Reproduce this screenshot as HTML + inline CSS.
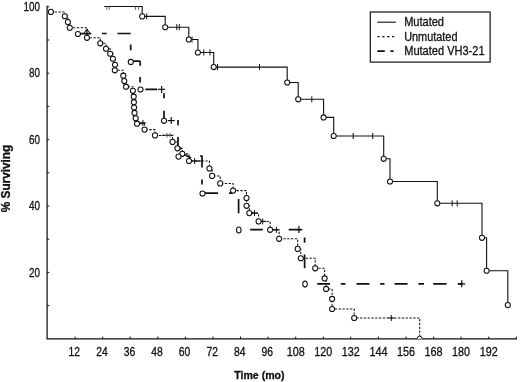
<!DOCTYPE html>
<html><head><meta charset="utf-8"><title>Survival</title>
<style>html,body{margin:0;padding:0;background:#fff}svg{display:block}text{font-family:"Liberation Sans",Arial,sans-serif;fill:#111;stroke:#111;stroke-width:.3px}</style>
</head><body>
<svg width="520" height="382" viewBox="0 0 520 382">
<rect width="520" height="382" fill="#fff"/>
<path d="M47.1 5.8V338.9H517" fill="none" stroke="#111" stroke-width="1.25"/>
<path d="M47 305.6h2.3M47 272.4h2.3M47 239.2h2.3M47 206h2.3M47 172.8h2.3M47 139.6h2.3M47 106.4h2.3M47 73.2h2.3M47 40h2.3M47 6.8h2.3M75.1 339v-2.4M102.7 339v-2.4M130.2 339v-2.4M157.8 339v-2.4M185.4 339v-2.4M213 339v-2.4M240.5 339v-2.4M268.1 339v-2.4M295.7 339v-2.4M323.3 339v-2.4M350.8 339v-2.4M378.4 339v-2.4M406 339v-2.4M433.6 339v-2.4M461.1 339v-2.4M488.7 339v-2.4M516.3 339v-2.4" fill="none" stroke="#111" stroke-width="1"/>
<text x="40" y="11" font-size="12" text-anchor="end" textLength="16.5" lengthAdjust="spacingAndGlyphs">100</text>
<text x="40" y="77.4" font-size="12" text-anchor="end" textLength="11" lengthAdjust="spacingAndGlyphs">80</text>
<text x="40" y="143.8" font-size="12" text-anchor="end" textLength="11" lengthAdjust="spacingAndGlyphs">60</text>
<text x="40" y="210.2" font-size="12" text-anchor="end" textLength="11" lengthAdjust="spacingAndGlyphs">40</text>
<text x="40" y="276.6" font-size="12" text-anchor="end" textLength="11" lengthAdjust="spacingAndGlyphs">20</text>
<text x="74.3" y="355.5" font-size="12" text-anchor="middle" textLength="11.5" lengthAdjust="spacingAndGlyphs">12</text>
<text x="101.9" y="355.5" font-size="12" text-anchor="middle" textLength="11.5" lengthAdjust="spacingAndGlyphs">24</text>
<text x="129.4" y="355.5" font-size="12" text-anchor="middle" textLength="11.5" lengthAdjust="spacingAndGlyphs">36</text>
<text x="157" y="355.5" font-size="12" text-anchor="middle" textLength="11.5" lengthAdjust="spacingAndGlyphs">48</text>
<text x="184.6" y="355.5" font-size="12" text-anchor="middle" textLength="11.5" lengthAdjust="spacingAndGlyphs">60</text>
<text x="212.2" y="355.5" font-size="12" text-anchor="middle" textLength="11.5" lengthAdjust="spacingAndGlyphs">72</text>
<text x="239.7" y="355.5" font-size="12" text-anchor="middle" textLength="11.5" lengthAdjust="spacingAndGlyphs">84</text>
<text x="267.3" y="355.5" font-size="12" text-anchor="middle" textLength="11.5" lengthAdjust="spacingAndGlyphs">96</text>
<text x="295.7" y="355.5" font-size="12" text-anchor="middle" textLength="18" lengthAdjust="spacingAndGlyphs">108</text>
<text x="323.3" y="355.5" font-size="12" text-anchor="middle" textLength="18" lengthAdjust="spacingAndGlyphs">120</text>
<text x="350.8" y="355.5" font-size="12" text-anchor="middle" textLength="18" lengthAdjust="spacingAndGlyphs">132</text>
<text x="378.4" y="355.5" font-size="12" text-anchor="middle" textLength="18" lengthAdjust="spacingAndGlyphs">144</text>
<text x="406" y="355.5" font-size="12" text-anchor="middle" textLength="18" lengthAdjust="spacingAndGlyphs">156</text>
<text x="433.6" y="355.5" font-size="12" text-anchor="middle" textLength="18" lengthAdjust="spacingAndGlyphs">168</text>
<text x="461.1" y="355.5" font-size="12" text-anchor="middle" textLength="18" lengthAdjust="spacingAndGlyphs">180</text>
<text x="488.7" y="355.5" font-size="12" text-anchor="middle" textLength="18" lengthAdjust="spacingAndGlyphs">192</text>
<text x="259.4" y="378.7" font-size="11.5" font-weight="bold" text-anchor="middle" textLength="50.4" lengthAdjust="spacingAndGlyphs">Time (mo)</text>
<text transform="translate(10.2 178.5) rotate(-90)" font-size="12" font-weight="bold" text-anchor="middle" textLength="67.5" lengthAdjust="spacingAndGlyphs">% Surviving</text>
<path d="M104.2 6.5H142.2V16.4H165.2V27.2H188.8V39.5H197.9V52.5H213.7V67.1H287.2V82.5H298.2V99.3H323.6V117.4H333.7V136H383.7V158.8H390V181.5H437.3V203.3H482V237.8H486.6V270.7H507.8V305.1" fill="none" stroke="#111" stroke-width="1.1"/>
<path d="M146.7 13.3v6M176.8 24.2v6M179.3 24.2v6M192 36.5v6M203.7 49.5v6M210 49.5v6M217.5 64.1v6M259.5 64.1v6M311.8 96.3v6M353.2 133v6M372.7 133v6M452.2 200.3v6M457.2 200.3v6" fill="none" stroke="#111" stroke-width="1"/>
<path d="M106.8 6.5v3.3M109.2 6.5v3.3M135.5 6.5v3.3M138.5 6.5v3.3" fill="none" stroke="#666" stroke-width="1"/>
<path d="M50.9 11.9H64.8V16.3H67.9V22.1H69.8V27.7H86.9V37.8H100.2V43.3H106V48.7H110.2V53.7H112.9V58.7H115V64.8H114.8V70.3H123.3V75.7H124.3V81.1H126V86.7H132.9V90.8H133.7V96.7H133.9V102.2H134.1V107.6H134.5V112.9H135.7V118.3H137V123.7H144.5V129.6H155V135.4H172.5V141.9H177.4V148.3H182.3V153.8H189V161H209.4V168.5H212.1V175.9H220.2V183.4H233.1V190.6H246.5V198H246.5V205.8H249.3V213.1H258.6V221.4H270.1V229.8H279.1V238.8H297.7V248.9H300.8V258.3H315.2V268.3H324.6V278.4H326.1V288.9H332.1V298.9H332.1V309H354.2V318H419.7V338.8" fill="none" stroke="#111" stroke-width="1.05" stroke-dasharray="2.3 1.5"/>
<path d="M161.5 135.2H173.5M189 161H202M249.3 213.1H256M258.6 221.4H266M270.1 229.8H278M137 123.2H145" fill="none" stroke="#111" stroke-width="1"/>
<path d="M139.9 122.9h6M142.9 119.9v6M191.7 161h6M194.7 158v6M251.5 213.1h6M254.5 210.1v6M259.7 221.4h6M262.7 218.4v6M273.4 229.8h6M276.4 226.8v6M388.3 318h6M391.3 315v6" fill="none" stroke="#111" stroke-width="1"/>
<path d="M167 132.8v4.8M170 132.8v4.8" fill="none" stroke="#555" stroke-width="0.9"/>
<path d="M79 33.6H91.2M102 33.5H106.7M117.5 33.5H130.7M133.4 61.2H140.3M145.3 89.3H157.2M200 156H202M205 193.2H218M229 193.2H232.7M250.1 229.6H262.7M288.7 229.6H301.5M317.2 283.8H330M340.8 283.8H345.5M356.5 283.8H369.4M380.2 283.8H384.5M394.5 283.8H407.6M418.4 283.8H424M433.2 283.8H446.6M457.8 283.8H462.5M130.7 44.5V50.2M140.2 61.2V65.8M140.1 77V82.4M164 93.3V98.3M164 110.7V118M178 120.1V125.2M178 137V148M202 155.5V167.5M202 179.6V184.6M238.6 198.9V213.3M304.6 237.6V242.7M304.6 254.5V268.3M184.5 154.4L191 158" fill="none" stroke="#111" stroke-width="1.7"/>
<path d="M180.2 146.9L182.5 148.4L180.2 149.9Z" fill="#111"/>
<path d="M83.4 33.5h7M86.9 30v7M158.1 89.4h7M161.6 85.9v7M167.7 120.6h7M171.2 117.1v7M295.4 229.6h7M298.9 226.1v7M458.2 283.8h7M461.7 280.3v7" fill="none" stroke="#111" stroke-width="1.2"/>
<g fill="#fff" stroke="#111" stroke-width="1.05">
<circle cx="142.2" cy="16.4" r="2.55"/>
<circle cx="165.2" cy="27.2" r="2.55"/>
<circle cx="188.8" cy="39.5" r="2.55"/>
<circle cx="197.9" cy="52.5" r="2.55"/>
<circle cx="213.7" cy="67.1" r="2.55"/>
<circle cx="287.2" cy="82.5" r="2.55"/>
<circle cx="298.2" cy="99.3" r="2.55"/>
<circle cx="323.6" cy="117.4" r="2.55"/>
<circle cx="333.7" cy="136" r="2.55"/>
<circle cx="383.7" cy="158.8" r="2.55"/>
<circle cx="390" cy="181.5" r="2.55"/>
<circle cx="437.3" cy="203.3" r="2.55"/>
<circle cx="482" cy="237.8" r="2.55"/>
<circle cx="486.6" cy="270.7" r="2.55"/>
<circle cx="507.8" cy="305.1" r="2.55"/>
<circle cx="50.9" cy="11.9" r="2.55"/>
<circle cx="64.8" cy="16.3" r="2.55"/>
<circle cx="67.9" cy="22.1" r="2.55"/>
<circle cx="69.8" cy="27.7" r="2.55"/>
<circle cx="86.9" cy="37.8" r="2.55"/>
<circle cx="100.2" cy="43.3" r="2.55"/>
<circle cx="106" cy="48.7" r="2.55"/>
<circle cx="110.2" cy="53.7" r="2.55"/>
<circle cx="112.9" cy="58.7" r="2.55"/>
<circle cx="115" cy="64.8" r="2.55"/>
<circle cx="114.8" cy="70.3" r="2.55"/>
<circle cx="123.3" cy="75.7" r="2.55"/>
<circle cx="124.3" cy="81.1" r="2.55"/>
<circle cx="126" cy="86.7" r="2.55"/>
<circle cx="132.9" cy="90.8" r="2.55"/>
<circle cx="133.7" cy="96.7" r="2.55"/>
<circle cx="133.9" cy="102.2" r="2.55"/>
<circle cx="134.1" cy="107.6" r="2.55"/>
<circle cx="134.5" cy="112.9" r="2.55"/>
<circle cx="135.7" cy="118.3" r="2.55"/>
<circle cx="137" cy="123.7" r="2.55"/>
<circle cx="144.5" cy="129.6" r="2.55"/>
<circle cx="155" cy="135.4" r="2.55"/>
<circle cx="172.5" cy="141.9" r="2.55"/>
<circle cx="177.4" cy="148.3" r="2.55"/>
<circle cx="182.3" cy="153.8" r="2.55"/>
<circle cx="189" cy="161" r="2.55"/>
<circle cx="209.4" cy="168.5" r="2.55"/>
<circle cx="212.1" cy="175.9" r="2.55"/>
<circle cx="220.2" cy="183.4" r="2.55"/>
<circle cx="233.1" cy="190.6" r="2.55"/>
<circle cx="246.5" cy="198" r="2.55"/>
<circle cx="246.5" cy="205.8" r="2.55"/>
<circle cx="249.3" cy="213.1" r="2.55"/>
<circle cx="258.6" cy="221.4" r="2.55"/>
<circle cx="270.1" cy="229.8" r="2.55"/>
<circle cx="279.1" cy="238.8" r="2.55"/>
<circle cx="297.7" cy="248.9" r="2.55"/>
<circle cx="300.8" cy="258.3" r="2.55"/>
<circle cx="315.2" cy="268.3" r="2.55"/>
<circle cx="324.6" cy="278.4" r="2.55"/>
<circle cx="326.1" cy="288.9" r="2.55"/>
<circle cx="332.1" cy="298.9" r="2.55"/>
<circle cx="332.1" cy="309" r="2.55"/>
<circle cx="354.2" cy="318" r="2.55"/>
<circle cx="77.9" cy="34" r="2.55"/>
<circle cx="130.8" cy="61.9" r="2.55"/>
<circle cx="140.5" cy="89.5" r="2.55"/>
<circle cx="164" cy="120.8" r="2.55"/>
<circle cx="178.5" cy="156.6" r="2.55"/>
<circle cx="202.5" cy="193.5" r="2.55"/>
<ellipse cx="238.8" cy="229.9" rx="2.3" ry="3"/>
<ellipse cx="305" cy="284.1" rx="2.3" ry="3"/>
</g>
<path d="M417.1 338.8A2.6 2.6 0 0 1 422.3 338.8" fill="#fff" stroke="#111" stroke-width="1"/>
<path d="M86.9 28.8L90 33.5H83.8Z" fill="none" stroke="#111" stroke-width="1"/>
<rect x="370.3" y="12" width="119.8" height="50.1" fill="#fff" stroke="#111" stroke-width="1.2"/>
<path d="M377.3 22.2H395.9" stroke="#111" stroke-width="1.1"/>
<path d="M377.3 36.6H395" stroke="#111" stroke-width="1.2" stroke-dasharray="2.3 2.6"/>
<path d="M377.3 51.2H384.8M390.4 51.2H393.6" stroke="#111" stroke-width="1.7"/>
<text x="404.2" y="26.1" font-size="12" textLength="39.8" lengthAdjust="spacingAndGlyphs">Mutated</text>
<text x="404.2" y="40.9" font-size="12" textLength="53.3" lengthAdjust="spacingAndGlyphs">Unmutated</text>
<text x="404.2" y="55.3" font-size="12" textLength="80.4" lengthAdjust="spacingAndGlyphs">Mutated VH3-21</text>
</svg></body></html>
